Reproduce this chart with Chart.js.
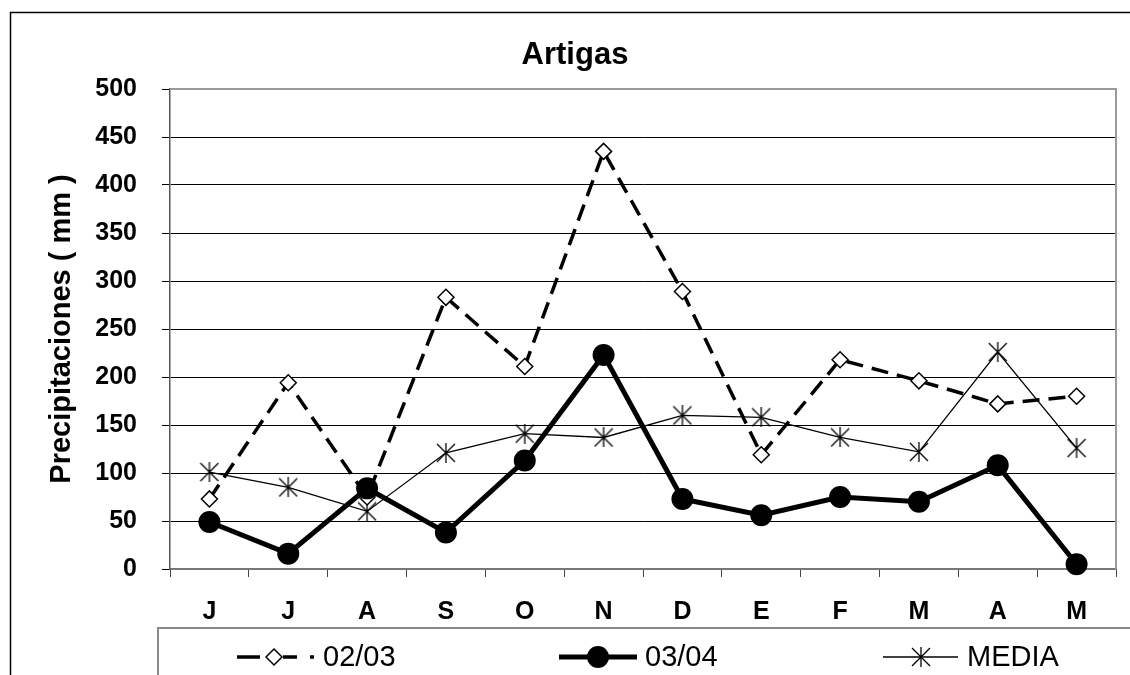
<!DOCTYPE html>
<html>
<head>
<meta charset="utf-8">
<script src="https://cdn.jsdelivr.net/npm/chart.js@4.4.1/dist/chart.umd.min.js"></script>
<style>
  html, body { margin: 0; padding: 0; background: #fff; }
  #wrap { width: 1130px; height: 675px; position: relative; }
</style>
</head>
<body>
<div id="wrap"><canvas id="myChart"></canvas></div>
<script>
const months = ["J", "J", "A", "S", "O", "N", "D", "E", "F", "M", "A", "M"];
const rain0203 = [73, 194, 75, 283, 211, 435, 289, 119, 218, 196, 172, 180];
const rain0304 = [49, 16, 84, 38, 113, 223, 73, 56, 75, 70, 108, 5];
const rainMedia = [101, 85, 60, 121, 141, 137, 160, 158, 137, 122, 226, 126];
const seriesNames = ["02/03", "03/04", "MEDIA"];

const FONT = "'Liberation Sans', Arial, sans-serif";
Chart.defaults.font.family = FONT;
Chart.defaults.color = "#000";

// Excel style asterisk marker: an X with a vertical bar
function makeStar() {
  const c = document.createElement("canvas");
  c.width = 20;
  c.height = 20;
  const g = c.getContext("2d");
  g.strokeStyle = "#000";
  g.lineWidth = 1.3;
  g.beginPath();
  g.moveTo(1, 1); g.lineTo(19, 19);
  g.moveTo(19, 1); g.lineTo(1, 19);
  g.moveTo(10, 0); g.lineTo(10, 20);
  g.stroke();
  return c;
}
const star = makeStar();

function diamond(ctx, x, y, r) {
  ctx.beginPath();
  ctx.moveTo(x, y - r);
  ctx.lineTo(x + r, y);
  ctx.lineTo(x, y + r);
  ctx.lineTo(x - r, y);
  ctx.closePath();
  ctx.fillStyle = "#fff";
  ctx.fill();
  ctx.lineWidth = 1.5;
  ctx.strokeStyle = "#000";
  ctx.stroke();
}

function seg(ctx, x1, x2, y, w) {
  ctx.beginPath();
  ctx.moveTo(x1, y);
  ctx.lineTo(x2, y);
  ctx.lineWidth = w;
  ctx.strokeStyle = "#000";
  ctx.stroke();
}

const framePlugin = {
  id: "frame",
  beforeDatasetsDraw(chart) {
    const { ctx, chartArea: a } = chart;
    ctx.save();
    ctx.strokeStyle = "#9a9a9a";
    ctx.lineWidth = 2;
    ctx.beginPath();
    ctx.moveTo(a.left, a.top);
    ctx.lineTo(a.right, a.top);
    ctx.lineTo(a.right, a.bottom);
    ctx.stroke();
    ctx.restore();
  },
  afterDraw(chart) {
    const ctx = chart.ctx;
    ctx.save();
    // outer chart border
    ctx.strokeStyle = "#000";
    ctx.lineWidth = 1.5;
    ctx.strokeRect(10.5, 12.5, 1200, 700);

    // title
    ctx.fillStyle = "#000";
    ctx.font = "bold 31px " + FONT;
    ctx.textAlign = "center";
    ctx.textBaseline = "alphabetic";
    ctx.fillText("Artigas", 575, 64);

    // legend box
    ctx.strokeStyle = "#8a8a8a";
    ctx.lineWidth = 2;
    ctx.strokeRect(158, 628, 1100, 100);

    const ly = 657;
    // 02/03
    seg(ctx, 237, 260, ly, 3.5);
    seg(ctx, 283, 297, ly, 3.5);
    seg(ctx, 310, 314, ly, 3.5);
    diamond(ctx, 274, ly, 8);
    // 03/04
    seg(ctx, 559, 637, ly, 5);
    ctx.beginPath();
    ctx.arc(598, ly, 11, 0, Math.PI * 2);
    ctx.fillStyle = "#000";
    ctx.fill();
    // MEDIA
    seg(ctx, 883, 958, ly, 1.3);
    ctx.drawImage(star, 921 - 10, ly - 10);

    ctx.font = "29px " + FONT;
    ctx.textAlign = "left";
    ctx.fillStyle = "#000";
    ctx.fillText(seriesNames[0], 323, 666);
    ctx.fillText(seriesNames[1], 645, 666);
    ctx.fillText(seriesNames[2], 967, 666);
    ctx.restore();
  }
};

new Chart("myChart", {
  type: "line",
  data: {
    labels: months,
    datasets: [
      {
        label: seriesNames[0],
        data: rain0203,
        borderColor: "#000",
        borderWidth: 3.5,
        borderDash: [17, 9],
        pointStyle: "rectRot",
        pointRadius: 8,
        pointBackgroundColor: "#fff",
        pointBorderColor: "#000",
        pointBorderWidth: 1.5,
        tension: 0,
        clip: false,
        order: 1
      },
      {
        label: seriesNames[1],
        data: rain0304,
        borderColor: "#000",
        borderWidth: 5,
        pointStyle: "circle",
        pointRadius: 11,
        pointBackgroundColor: "#000",
        pointBorderColor: "#000",
        pointBorderWidth: 0,
        tension: 0,
        clip: false,
        order: 0
      },
      {
        label: seriesNames[2],
        data: rainMedia,
        borderColor: "#000",
        borderWidth: 1.3,
        pointStyle: star,
        tension: 0,
        clip: false,
        order: 2
      }
    ]
  },
  options: {
    responsive: true,
    maintainAspectRatio: false,
    animation: false,
    layout: { padding: { left: 0, top: 89, right: 14, bottom: 0 } },
    plugins: {
      legend: { display: false },
      title: { display: false },
      tooltip: { enabled: false }
    },
    scales: {
      x: {
        offset: true,
        grid: { offset: true, drawOnChartArea: false, color: "#444", tickLength: 8 },
        border: { color: "#777", width: 2 },
        ticks: {
          color: "#000",
          font: { size: 25, weight: "bold" },
          padding: 20,
          maxRotation: 0,
          autoSkip: false
        },
        afterFit: (s) => { s.height = 106; }
      },
      y: {
        min: 0,
        max: 500,
        ticks: {
          stepSize: 50,
          color: "#000",
          font: { size: 25, weight: "bold" },
          padding: 25
        },
        grid: { color: "#000", lineWidth: 1, tickLength: 8 },
        border: { color: "#555", width: 1.5 },
        title: {
          display: true,
          text: "Precipitaciones ( mm )",
          color: "#000",
          font: { size: 29, weight: "bold" },
          padding: { top: 45, bottom: 0 }
        },
        afterFit: (s) => { s.width = 170; }
      }
    }
  },
  plugins: [framePlugin]
});
</script>
</body>
</html>
